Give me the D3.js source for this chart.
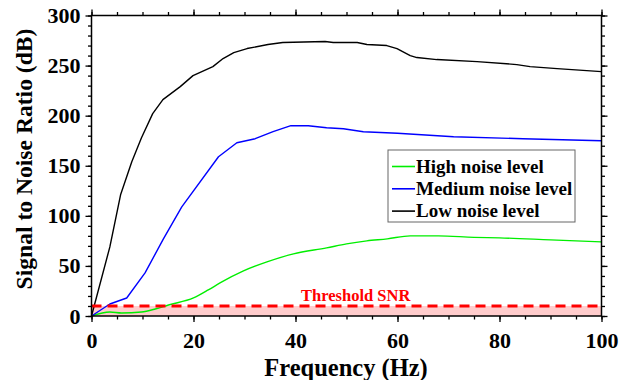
<!DOCTYPE html>
<html>
<head>
<meta charset="utf-8">
<script src="https://cdn.jsdelivr.net/npm/d3@7"></script>
<style>
  body { margin: 0; background: #fff; }
  text { font-family: "Liberation Serif", "Times New Roman", serif; font-weight: bold; }
</style>
</head>
<body>
<div id="chart"></div>
<script>
// data: [frequency Hz, SNR dB]
let lowNoise = [[0,0],[3.6,69],[5.7,121],[7.9,154],[9.8,178],[12,202],[14,216],[17.4,229],[19.9,240],
  [23.8,249],[25.8,257],[27.9,263],[30.5,267],[34.6,271],[37.5,273],[45.8,274],[47.4,273],[52.1,273],
  [54,271],[57.9,270],[59.9,267],[62.5,260],[63.8,258],[67.7,256],[75.6,254],[83.4,251],[86,249],
  [91.3,247],[100,244]];
let mediumNoise = [[0,0],[3.6,12],[6.9,18],[10.5,43],[14.1,77],[17.7,109],[24.9,159],[28.5,173],
  [32.1,177],[35.6,184],[39.1,190],[42.5,190],[46.1,188],[49.4,187],[53.3,184],[60,182.5],[71,179],
  [84.6,177],[100,175]];
let highNoise = [[0,0],[3.6,4],[5.9,3],[9.8,4],[12.5,7],[15.1,11],[20,18],[22.9,26],[25.2,33],
  [29.8,45],[34.4,54],[39.6,62],[46.1,68],[50,72],[54,75],[58,77],[62.5,80],[68,80],[75,78.5],
  [80,78],[90,76],[100,74]];
let seriesNames = ["High noise level", "Medium noise level", "Low noise level"];
let seriesColors = ["#00ee00", "#0000ff", "#000000"];
let threshold = 10;
let xTicks = [0, 20, 40, 60, 80, 100];
let yTicks = [0, 50, 100, 150, 200, 250, 300];

let svgWidth = 624;
let svgHeight = 380;
let margin = { top: 15.5, right: 22.5, bottom: 64, left: 91.5 };
let width = svgWidth - margin.left - margin.right;
let height = svgHeight - margin.top - margin.bottom;

let svg = d3.select("#chart").append("svg")
  .attr("width", svgWidth)
  .attr("height", svgHeight);

let g = svg.append("g")
  .attr("transform", `translate(${margin.left}, ${margin.top})`);

let x = d3.scaleLinear().domain([0, 100]).range([0, width]);
let y = d3.scaleLinear().domain([0, 300]).range([height, 0]);

// threshold band
g.append("rect")
  .attr("x", x(0)).attr("y", y(threshold))
  .attr("width", x(100) - x(0)).attr("height", y(0) - y(threshold))
  .attr("fill", "#ffcccc");

// curves
let line = d3.line().x(d => x(d[0])).y(d => y(d[1]));
let allSeries = [highNoise, mediumNoise, lowNoise];
allSeries.forEach((s, i) => {
  g.append("path")
    .datum(s)
    .attr("fill", "none")
    .attr("stroke", seriesColors[i])
    .attr("stroke-width", 1.4)
    .attr("stroke-linejoin", "round")
    .attr("d", i === 0 ? line.curve(d3.curveMonotoneX)(s) : line.curve(d3.curveLinear)(s));
});

// threshold line
g.append("line")
  .attr("x1", x(0)).attr("x2", x(100))
  .attr("y1", y(threshold)).attr("y2", y(threshold))
  .attr("stroke", "#ff0000")
  .attr("stroke-width", 3)
  .attr("stroke-dasharray", "10,6");

g.append("text")
  .attr("x", x(51.8)).attr("y", y(threshold) - 5)
  .attr("text-anchor", "middle")
  .attr("fill", "#ff0000")
  .style("font-size", "16.5px")
  .text("Threshold SNR");

// axes: major + minor ticks, outward on all four sides
function tickAxis(axisFn, scale, major, minor, labels, pad) {
  let minorAxis = axisFn(scale).tickValues(minor).tickSize(3.5).tickFormat("");
  let majorAxis = axisFn(scale).tickValues(major).tickSize(6).tickPadding(pad);
  if (!labels) majorAxis.tickFormat("");
  return [minorAxis, majorAxis];
}
let xMinor = d3.range(0, 101, 5);
let yMinor = d3.range(0, 301, 10);

let axes = [
  { fn: d3.axisBottom, s: x, maj: xTicks, min: xMinor, lab: true, pad: 10, t: `translate(0,${height})` },
  { fn: d3.axisTop, s: x, maj: xTicks, min: xMinor, lab: false, pad: 5, t: "translate(0,0)" },
  { fn: d3.axisLeft, s: y, maj: yTicks, min: yMinor, lab: true, pad: 5, t: "translate(0,0)" },
  { fn: d3.axisRight, s: y, maj: yTicks, min: yMinor, lab: false, pad: 5, t: `translate(${width},0)` }
];
axes.forEach(a => {
  tickAxis(a.fn, a.s, a.maj, a.min, a.lab, a.pad).forEach(ax => {
    let ag = g.append("g").attr("transform", a.t).call(ax);
    ag.select(".domain").remove();
    ag.selectAll("line").attr("stroke", "#000").attr("stroke-width", 1.3);
    ag.selectAll("text")
      .style("font-family", "'Liberation Serif', serif")
      .style("font-weight", "bold")
      .style("font-size", "22px")
      .attr("fill", "#000");
  });
});

// frame
g.append("rect")
  .attr("width", width).attr("height", height)
  .attr("fill", "none")
  .attr("stroke", "#000")
  .attr("stroke-width", 1.5);

// axis titles
svg.append("text")
  .attr("x", 346).attr("y", 376)
  .attr("text-anchor", "middle")
  .style("font-size", "24.5px")
  .text("Frequency (Hz)");

svg.append("text")
  .attr("transform", "translate(32,159) rotate(-90)")
  .attr("text-anchor", "middle")
  .style("font-size", "23.6px")
  .text("Signal to Noise Ratio (dB)");

// legend
let legend = svg.append("g").attr("transform", "translate(388,150)");
legend.append("rect")
  .attr("width", 187).attr("height", 72)
  .attr("fill", "#fff")
  .attr("stroke", "#666")
  .attr("stroke-width", 1);
seriesNames.forEach((name, i) => {
  let yy = 16.5 + i * 22.3;
  legend.append("line")
    .attr("x1", 4).attr("x2", 27)
    .attr("y1", yy).attr("y2", yy)
    .attr("stroke", seriesColors[i])
    .attr("stroke-width", 1.6);
  legend.append("text")
    .attr("x", 28).attr("y", yy + 6)
    .style("font-size", "19px")
    .text(name);
});
</script>
</body>
</html>
